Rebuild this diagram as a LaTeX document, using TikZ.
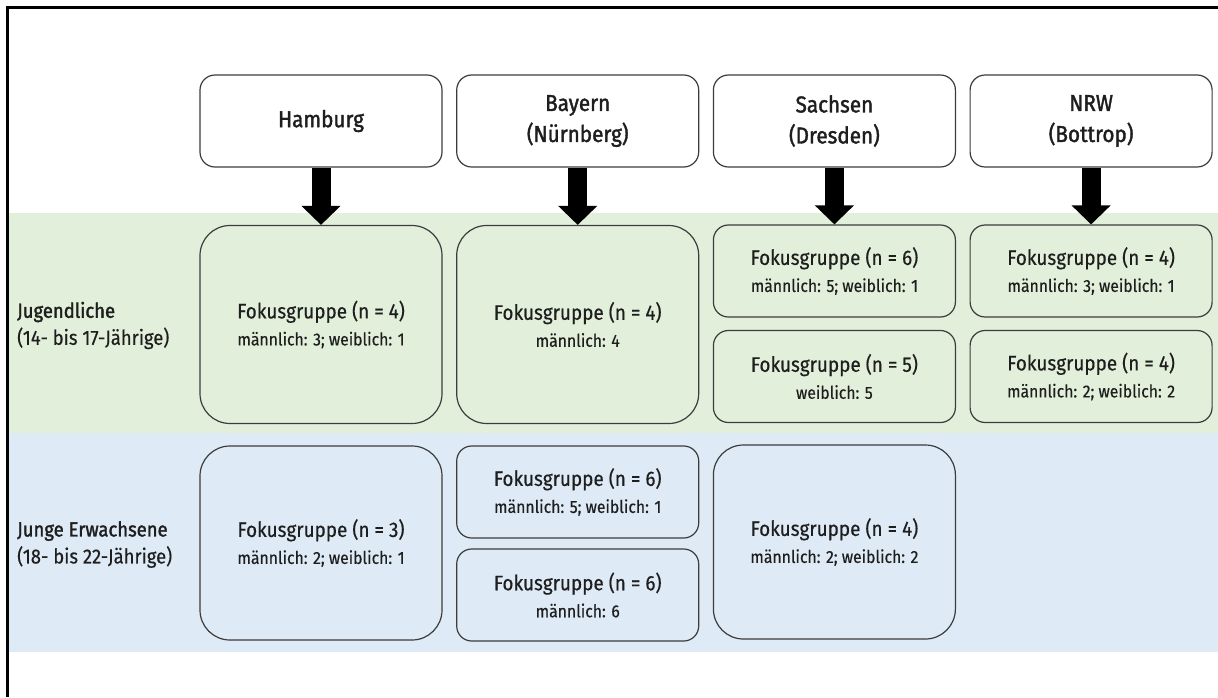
\documentclass[tikz,border=0pt]{standalone}
\usepackage{fontspec}
\setmainfont{Fira Sans}[FakeStretch=0.9, FakeBold=0.4]
\newfontfamily\medfont{Fira Sans}[FakeStretch=0.9, FakeBold=1.6]
\usetikzlibrary{positioning, arrows.meta}

\definecolor{jgreen}{RGB}{226,239,218}
\definecolor{eblue}{RGB}{222,234,246}
\definecolor{boxline}{RGB}{60,60,60}
\definecolor{txt}{RGB}{30,30,30}

\newcommand{\grp}[2]{{\fontsize{21}{27}\selectfont Fokusgruppe (n = #1)}\\#2}

\tikzset{
  box/.style={draw=boxline, line width=1.2pt, rounded corners=15pt,
    minimum width=242pt, align=center, inner sep=0pt, text=txt},
  head/.style={box, fill=white, minimum height=92pt,
    font=\medfont\fontsize{23}{31}\selectfont},
  grp/.style={box, minimum height=92pt, font=\fontsize{17.5}{27}\selectfont},
  grpbig/.style={grp, rounded corners=30pt, minimum height=198pt},
  rowlab/.style={anchor=west, align=left, inner sep=0pt, text=txt,
    font=\fontsize{20.5}{27}\selectfont},
  fat/.style={line width=19pt, -{Triangle[width=38pt, length=19pt]}}
}

\begin{document}
\begin{tikzpicture}[x=1pt, y=-1pt, node distance=256.7pt, on grid]
  \useasboundingbox (0,0) rectangle (1218,697);
  % bands and frame
  \fill[jgreen] (9,213) rectangle (1218,433);
  \fill[eblue] (9,433) rectangle (1218,652);
  \draw[line width=3pt] (7.5,697) -- (7.5,7.5) -- (1218,7.5);

  % locations
  \node[head] (hh) at (321,121) {Hamburg};
  \node[head] (hb) [right=of hh] {Bayern\\(Nürnberg)};
  \node[head] (hs) [right=of hb] {Sachsen\\(Dresden)};
  \node[head] (hn) [right=of hs] {NRW\\(Bottrop)};

  % Jugendliche
  \node[grpbig, fill=jgreen] (jh) [below=203.5pt of hh] {\grp{4}{männlich: 3; weiblich: 1}};
  \node[grpbig, fill=jgreen] (jb) [below=203.5pt of hb] {\grp{4}{männlich: 4}};
  \node[grp, fill=jgreen] (js1) [below=150pt of hs] {\grp{6}{männlich: 5; weiblich: 1}};
  \node[grp, fill=jgreen] (js2) [below=105.5pt of js1] {\grp{5}{weiblich: 5}};
  \node[grp, fill=jgreen] (jn1) [below=150pt of hn] {\grp{4}{männlich: 3; weiblich: 1}};
  \node[grp, fill=jgreen] (jn2) [below=105.5pt of jn1] {\grp{4}{männlich: 2; weiblich: 2}};

  % Junge Erwachsene
  \node[grpbig, fill=eblue, minimum height=194pt] (eh) [below=218.5pt of jh] {\grp{3}{männlich: 2; weiblich: 1}};
  \node[grp, fill=eblue] (eb1) [below=167.5pt of jb] {\grp{6}{männlich: 5; weiblich: 1}};
  \node[grp, fill=eblue] (eb2) [below=103pt of eb1] {\grp{6}{männlich: 6}};
  \node[grpbig, fill=eblue, minimum height=194pt] (es) [below=165.5pt of js2] {\grp{4}{männlich: 2; weiblich: 2}};

  % row labels
  \node[rowlab] (lj) at (17,325.5) {{\medfont Jugendliche}\\(14- bis 17-Jährige)};
  \node[rowlab] (le) at (17,544.5) {{\medfont Junge Erwachsene}\\(18- bis 22-Jährige)};

  \draw[fat] (hh) -- (jh);
  \draw[fat] (hb) -- (jb);
  \draw[fat] (hs) -- (js1);
  \draw[fat] (hn) -- (jn1);
\end{tikzpicture}
\end{document}
